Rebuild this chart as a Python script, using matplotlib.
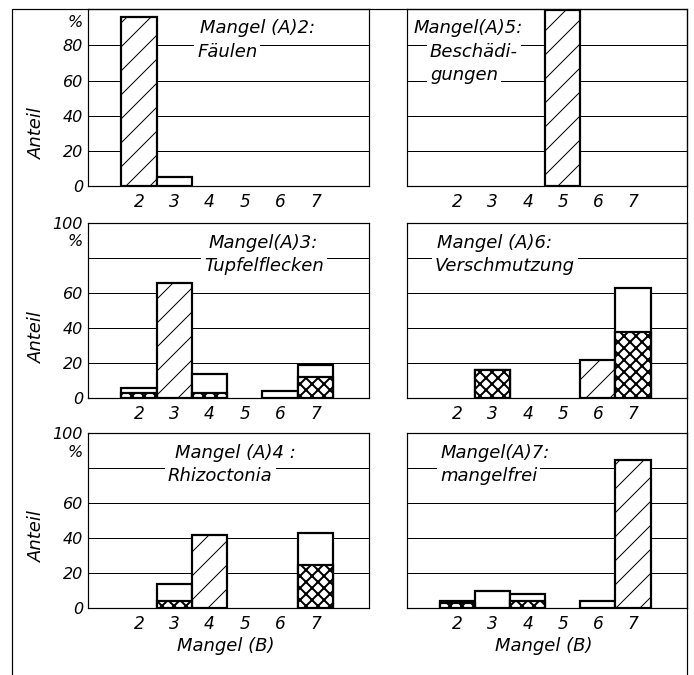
import matplotlib
matplotlib.use("Agg")
import matplotlib.pyplot as plt
from matplotlib.lines import Line2D

plt.rcParams['font.family'] = ['DejaVu Sans']
plt.rcParams['font.style'] = 'italic'

mangel_b = [2, 3, 4, 5, 6, 7]

# Anteil in % je Mangel (B); gesamt = offener Balken, kreuz = kreuzschraffierter Teil
a2_gesamt = [96, 5, 0, 0, 0, 0]
a2_kreuz = [0, 0, 0, 0, 0, 0]
a3_gesamt = [6, 66, 14, 0, 4, 19]
a3_kreuz = [3, 0, 3, 0, 0, 12]
a4_gesamt = [0, 14, 42, 0, 0, 43]
a4_kreuz = [0, 4, 0, 0, 0, 25]
a5_gesamt = [0, 0, 0, 100, 0, 0]
a5_kreuz = [0, 0, 0, 0, 0, 0]
a6_gesamt = [0, 16, 0, 0, 22, 63]
a6_kreuz = [0, 16, 0, 0, 0, 38]
a7_gesamt = [4, 10, 8, 0, 4, 85]
a7_kreuz = [3, 0, 4, 0, 0, 0]

titel_a2 = ["Mangel (A)2:", "Fäulen"]
titel_a3 = ["Mangel(A)3:", "Tupfelflecken"]
titel_a4 = ["Mangel (A)4 :", "Rhizoctonia"]
titel_a5 = ["Mangel(A)5:", "Beschädi-", "gungen"]
titel_a6 = ["Mangel (A)6:", "Verschmutzung"]
titel_a7 = ["Mangel(A)7:", "mangelfrei"]

gitter = [20, 40, 60, 80]

# reihenfolge wie im bild: zeilenweise
panels = [
    (2, a2_gesamt, a2_kreuz, titel_a2, [0.398, 0.388]),
    (5, a5_gesamt, a5_kreuz, titel_a5, [0.026, 0.083, 0.083]),
    (3, a3_gesamt, a3_kreuz, titel_a3, [0.427, 0.412]),
    (6, a6_gesamt, a6_kreuz, titel_a6, [0.107, 0.101]),
    (4, a4_gesamt, a4_kreuz, titel_a4, [0.309, 0.284]),
    (7, a7_gesamt, a7_kreuz, titel_a7, [0.119, 0.119]),
]

W, H = 694, 675
col_x = [88, 406.7]
col_w = [281.3, 280]
row_top = [8.5, 223, 433.3]
row_bot = [186, 398, 608.3]
ylabel_y = [0.30, 0.35, 0.41]
titel_y = [0.86, 0.725, 0.595]

fig = plt.figure(figsize=(W / 72, H / 72), dpi=72)

for i, (a, gesamt, kreuz, titel, tx) in enumerate(panels):
    r, c = divmod(i, 2)
    ax = fig.add_axes([col_x[c] / W, 1 - row_bot[r] / H, col_w[c] / W, (row_bot[r] - row_top[r]) / H])

    for y in gitter:
        ax.axhline(y, color='black', lw=1.0, zorder=1)

    for b, g, k in zip(mangel_b, gesamt, kreuz):
        if g == 0:
            continue
        if b == a:
            bars = ax.bar(b, g, 1.0, facecolor='white', edgecolor='black', hatch='/', lw=2.2, zorder=3)
        else:
            bars = ax.bar(b, g, 1.0, facecolor='white', edgecolor='black', lw=2.2, zorder=3)
            if k > 0:
                kb = ax.bar(b, k, 1.0, facecolor='white', edgecolor='black', hatch='xx', lw=2.2, zorder=4)
                for p in kb:
                    if hasattr(p, 'set_hatch_linewidth'):
                        p.set_hatch_linewidth(2.0)
        for p in bars:
            if hasattr(p, 'set_hatch_linewidth'):
                p.set_hatch_linewidth(1.0)

    ax.set_xlim(0.55, 8.53)
    ax.set_ylim(0, 101 if r == 0 else 100)
    ax.set_xticks(mangel_b)
    ax.set_xticklabels([str(b) for b in mangel_b], fontsize=17)
    ax.tick_params(which='both', length=0)
    ax.tick_params(axis='x', pad=7)
    ax.tick_params(axis='y', pad=5)
    for s in ax.spines.values():
        s.set_linewidth(1.2)

    if c == 0:
        if r == 0:
            ax.set_yticks([0, 20, 40, 60, 80, 94])
            ax.set_yticklabels(['0', '20', '40', '60', '80', '%'], fontsize=16)
        else:
            ax.set_yticks([0, 20, 40, 60, 90, 100])
            ax.set_yticklabels(['0', '20', '40', '60', '%', '100'], fontsize=16)
        ax.set_ylabel('Anteil', fontsize=18)
        ax.yaxis.set_label_coords(-0.15, ylabel_y[r])
    else:
        ax.set_yticks([])

    if r == 2:
        ax.set_xlabel('Mangel (B)', fontsize=18)
        ax.xaxis.set_label_coords(0.49, -0.165)

    for j, zeile in enumerate(titel):
        ax.text(tx[j], titel_y[j], zeile, transform=ax.transAxes, fontsize=18,
                ha='left', va='baseline', zorder=5,
                bbox=dict(facecolor='white', edgecolor='none', pad=3))

# aeusserer rahmen
fig.add_artist(Line2D([12 / W, 12 / W, 687 / W, 687 / W], [0, 1 - 8.5 / H, 1 - 8.5 / H, 0],
                      transform=fig.transFigure, color='black', lw=1.2))

fig.savefig('out.png', dpi=72, facecolor='white')
